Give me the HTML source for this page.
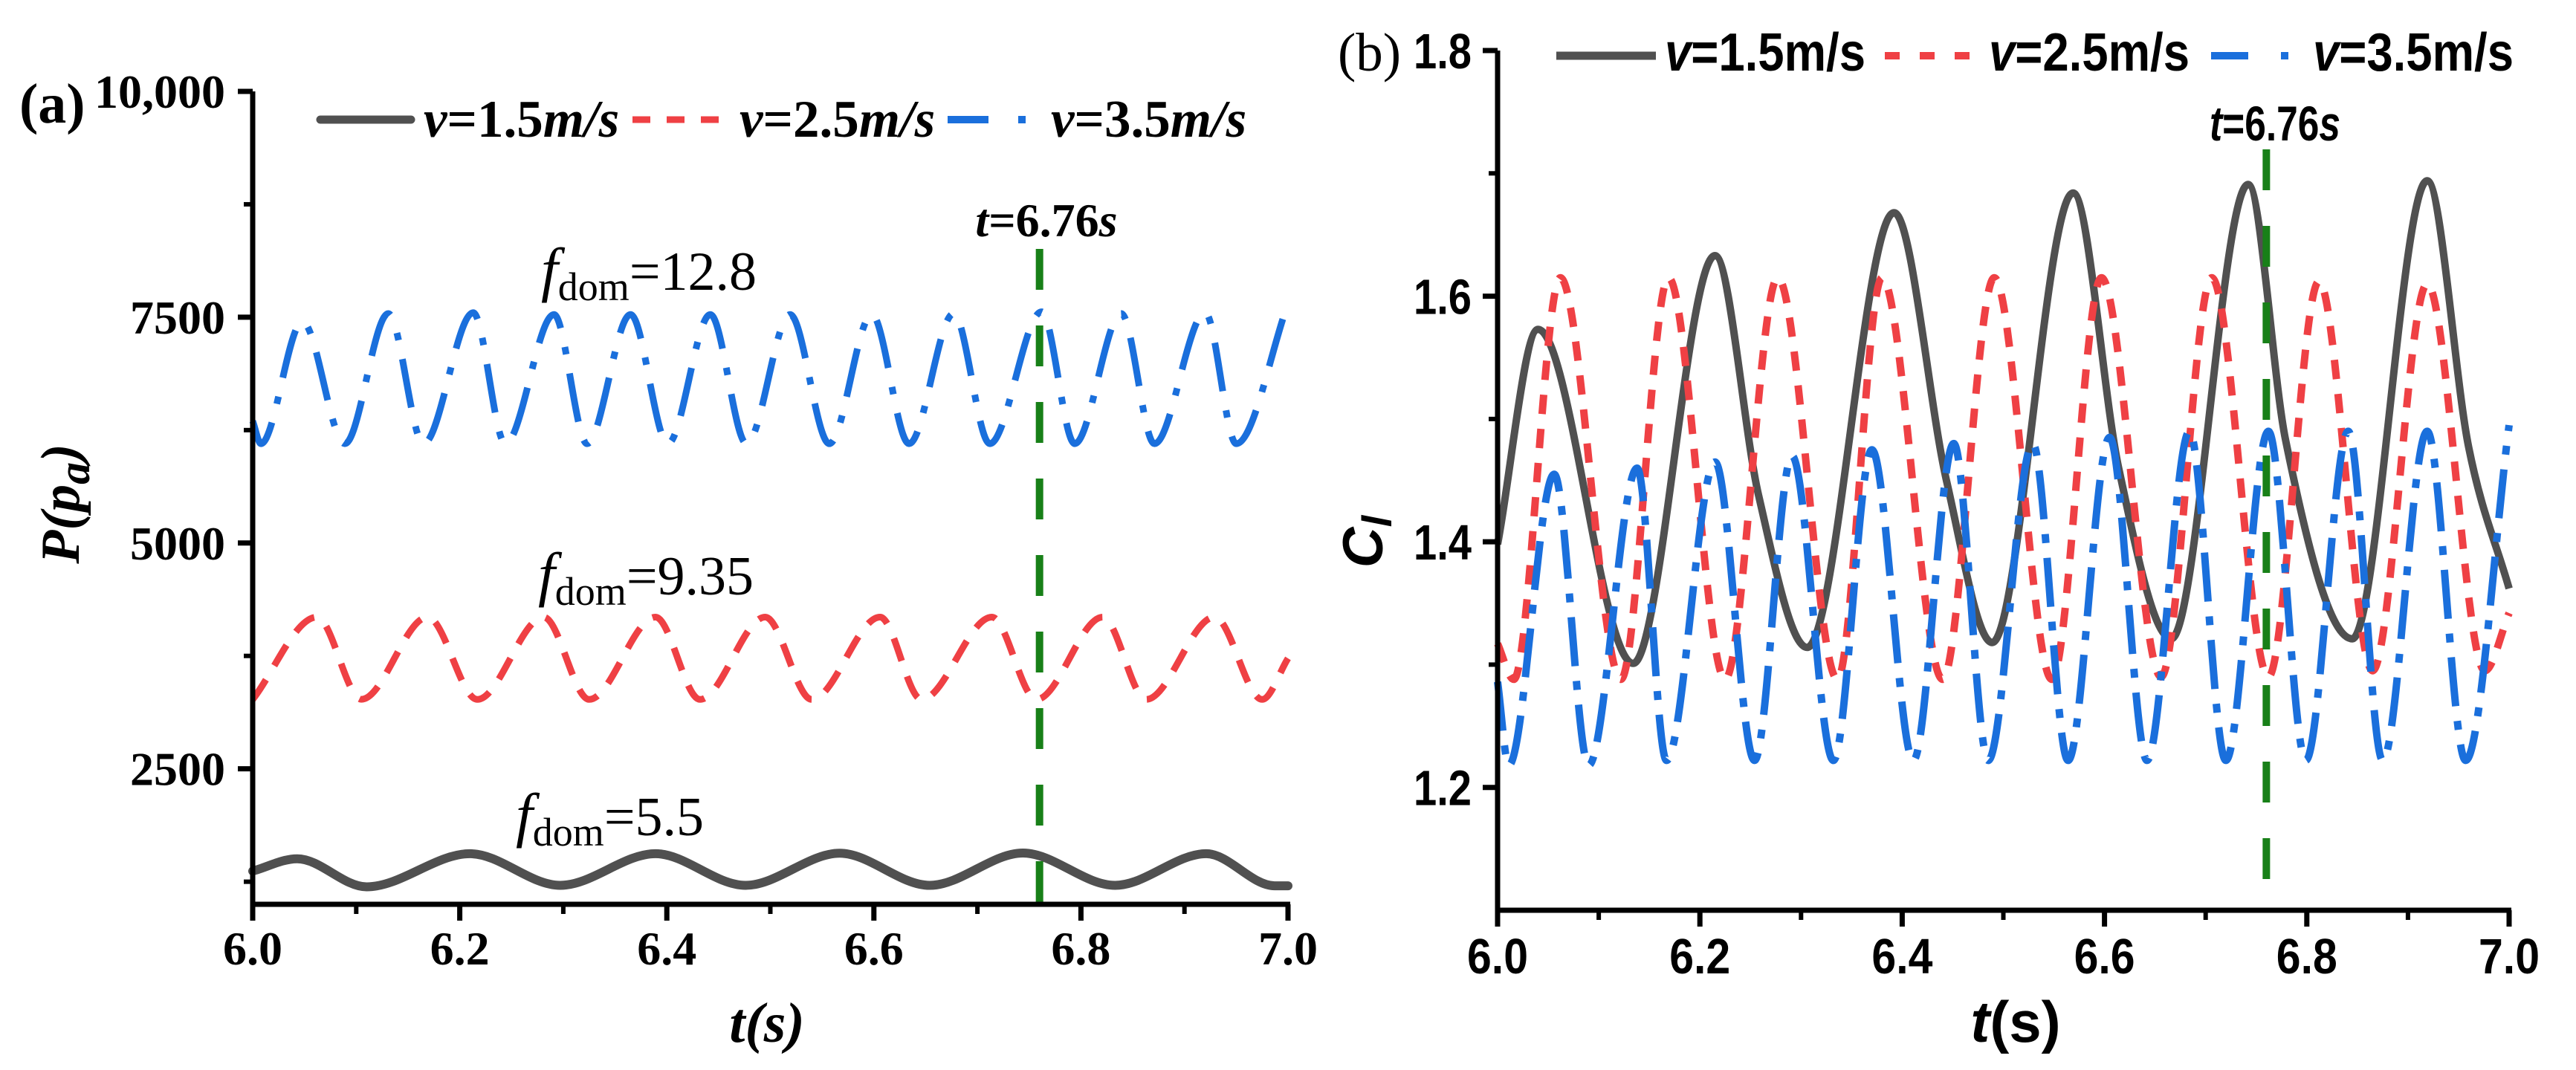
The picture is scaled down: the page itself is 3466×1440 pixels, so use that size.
<!DOCTYPE html>
<html><head><meta charset="utf-8"><style>
html,body{margin:0;padding:0;background:#fff;}
svg{display:block;}
.serif{font-family:"Liberation Serif",serif;}
.sans{font-family:"Liberation Sans",sans-serif;}
</style></head><body>
<svg id="fig" width="3466" height="1440" viewBox="0 0 3466 1440" xmlns="http://www.w3.org/2000/svg">
<g id="pa"></g>
<g id="pb"></g>
</svg>
<script>
// ---------- Panel (a) data: pressure extrema (time, value) ----------
const aBlackT = [6.0,6.043,6.11,6.21,6.297,6.389,6.476,6.567,6.654,6.744,6.833,6.921,6.987,7.0];
const aBlackV = [1368,1504,1193,1560,1210,1560,1210,1565,1210,1568,1210,1560,1205,1205];
const aRedT = [6.0,6.062,6.105,6.169,6.217,6.281,6.325,6.389,6.432,6.495,6.540,6.606,6.646,6.714,6.757,6.821,6.863,6.929,6.975,7.0];
const aRedV = [3268,4180,3270,4180,3268,4180,3268,4180,3268,4180,3268,4180,3268,4180,3268,4180,3268,4180,3268,3723];
const aBlueT = [6.0,6.008,6.048,6.089,6.131,6.165,6.213,6.244,6.291,6.323,6.365,6.401,6.442,6.477,6.519,6.557,6.598,6.634,6.677,6.712,6.762,6.794,6.839,6.871,6.920,6.950,7.0];
const aBlueV = [6350,6100,7450,6100,7540,6100,7550,6100,7530,6100,7530,6100,7530,6100,7530,6100,7530,6100,7540,6100,7560,6100,7540,6100,7550,6100,7650];
const aYTicks = [2500,5000,7500,10000];
const aYTickLabels = ["2500","5000","7500","10,000"];
const aYMinor = [1250,3750,6250,8750];
const xTicks = [6.0,6.2,6.4,6.6,6.8,7.0];
const xTickLabels = ["6.0","6.2","6.4","6.6","6.8","7.0"];
const xMinor = [6.1,6.3,6.5,6.7,6.9];
const markerT = 6.76;

// ---------- Panel (b) data: lift coefficient extrema ----------
const bBlackT = [6.0,6.040,6.134,6.215,6.258,6.306,6.392,6.444,6.489,6.569,6.614,6.666,6.742,6.779,6.845,6.919,6.960,7.0];
const bBlackV = [1.398,1.573,1.301,1.633,1.438,1.314,1.668,1.449,1.318,1.684,1.46,1.321,1.691,1.483,1.321,1.694,1.477,1.362];
const bRedT = [6.0,6.016,6.062,6.122,6.169,6.225,6.277,6.336,6.380,6.440,6.491,6.548,6.597,6.656,6.706,6.762,6.812,6.865,6.919,6.976,7.0];
const bRedV = [1.317,1.288,1.615,1.288,1.615,1.288,1.615,1.288,1.615,1.288,1.615,1.288,1.615,1.29,1.615,1.29,1.612,1.295,1.61,1.295,1.342];
const bBlueT = [6.0,6.011,6.056,6.090,6.138,6.167,6.215,6.254,6.291,6.332,6.370,6.411,6.451,6.485,6.529,6.564,6.605,6.642,6.684,6.720,6.762,6.799,6.841,6.875,6.919,6.957,7.0];
const bBlueV = [1.286,1.218,1.455,1.218,1.46,1.222,1.465,1.222,1.47,1.222,1.475,1.222,1.48,1.222,1.48,1.222,1.485,1.222,1.49,1.222,1.49,1.222,1.49,1.222,1.49,1.222,1.495];
const bYTicks = [1.2,1.4,1.6,1.8];
const bYTickLabels = ["1.2","1.4","1.6","1.8"];
const bYMinor = [1.3,1.5,1.7];

const NS = "http://www.w3.org/2000/svg";
function mk(tag, attrs, parent){
  const e = document.createElementNS(NS, tag);
  for (const k in attrs) e.setAttribute(k, attrs[k]);
  parent.appendChild(e); return e;
}
function smoothPath(xs, ys){
  const n = xs.length, d=[], m=new Array(n);
  for (let i=0;i<n-1;i++) d.push((ys[i+1]-ys[i])/(xs[i+1]-xs[i]));
  m[0]=d[0]; m[n-1]=d[n-2];
  for (let i=1;i<n-1;i++){ m[i] = (d[i-1]*d[i] <= 0) ? 0 : (d[i-1]+d[i])/2; }
  for (let i=0;i<n-1;i++){
    if (d[i]===0){ m[i]=0; m[i+1]=0; continue; }
    const a=m[i]/d[i], b=m[i+1]/d[i], s=a*a+b*b;
    if (s>9){ const t=3/Math.sqrt(s); m[i]=t*a*d[i]; m[i+1]=t*b*d[i]; }
  }
  let p = "M"+xs[0].toFixed(1)+","+ys[0].toFixed(1);
  for (let i=0;i<n-1;i++){
    const h=(xs[i+1]-xs[i])/3;
    p += " C"+(xs[i]+h).toFixed(1)+","+(ys[i]+m[i]*h).toFixed(1)+" "+(xs[i+1]-h).toFixed(1)+","+(ys[i+1]-m[i+1]*h).toFixed(1)+" "+xs[i+1].toFixed(1)+","+ys[i+1].toFixed(1);
  }
  return p;
}

// ================= PANEL A =================
(function(){
  const g = document.getElementById("pa");
  const X0=340, X1=1733, Ybot=1217, Ytop=123, vMin=1000, vMax=10000;
  const sx = t => X0 + (t-6)/(1)*(X1-X0);
  const sy = v => Ybot - (v-vMin)/(vMax-vMin)*(Ybot-Ytop);

  function series(T,V,stroke,w,dash,name){
    const p = mk("path",{d:smoothPath(T.map(sx),V.map(sy)),fill:"none",stroke:stroke,"stroke-width":w,"stroke-dasharray":dash||"none","stroke-linecap":dash?"butt":"round","stroke-linejoin":"round"},g);
    
    
  }
  series(aBlueT,aBlueV,"#1a6fdc",9,"66 26 10 26","series-a-v3.5");
  series(aRedT,aRedV,"#ef4044",9,"32 22","series-a-v2.5");
  series(aBlackT,aBlackV,"#505050",12,null,"series-a-v1.5");

  const ml = mk("line",{x1:sx(markerT),x2:sx(markerT),y1:335,y2:Ybot,stroke:"#188018","stroke-width":10,"stroke-dasharray":"55 48"},g);
  
  

  const ax = mk("path",{d:`M${X0},${Ytop} H${X0} V${Ybot} H${X1+3}`,fill:"none",stroke:"#000","stroke-width":7},g);
  
  
  aYTicks.forEach((v,i)=>{
    mk("line",{x1:X0-20,x2:X0,y1:sy(v),y2:sy(v),stroke:"#000","stroke-width":7},g);
    const t = mk("text",{x:303,y:sy(v)+22,"text-anchor":"end","font-size":64,"font-weight":"bold",class:"serif"},g);
    t.textContent = aYTickLabels[i];
    
    
  });
  aYMinor.forEach(v=>mk("line",{x1:X0-12,x2:X0,y1:sy(v),y2:sy(v),stroke:"#000","stroke-width":6},g));
  xTicks.forEach((v,i)=>{
    mk("line",{x1:sx(v),x2:sx(v),y1:Ybot,y2:Ybot+22,stroke:"#000","stroke-width":7},g);
    const t = mk("text",{x:sx(v),y:1298,"text-anchor":"middle","font-size":64,"font-weight":"bold",class:"serif"},g);
    t.textContent = xTickLabels[i];
    
    
  });
  xMinor.forEach(v=>mk("line",{x1:sx(v),x2:sx(v),y1:Ybot,y2:Ybot+13,stroke:"#000","stroke-width":6},g));
})();

// ================= PANEL B =================
(function(){
  const g = document.getElementById("pb");
  const X0=2015, X1=3376, Ybot=1225, Ytop=68, vMin=1.1, vMax=1.8;
  const sx = t => X0 + (t-6)/(1)*(X1-X0);
  const sy = v => Ybot - (v-vMin)/(vMax-vMin)*(Ybot-Ytop);

  function series(T,V,stroke,w,dash,name){
    const p = mk("path",{d:smoothPath(T.map(sx),V.map(sy)),fill:"none",stroke:stroke,"stroke-width":w,"stroke-dasharray":dash||"none","stroke-linecap":"butt","stroke-linejoin":"round"},g);
    
    
  }
  series(bBlackT,bBlackV,"#505050",10,null,"series-b-v1.5");
  series(bRedT,bRedV,"#ef4044",10,"26 20","series-b-v2.5");
  series(bBlueT,bBlueV,"#1a6fdc",10,"66 20 12 20","series-b-v3.5");

  const ml = mk("line",{x1:sx(markerT),x2:sx(markerT),y1:201,y2:Ybot,stroke:"#188018","stroke-width":10,"stroke-dasharray":"55 48"},g);
  
  

  const ax = mk("path",{d:`M${X0},${Ytop} V${Ybot} H${X1+3}`,fill:"none",stroke:"#000","stroke-width":7},g);
  
  
  bYTicks.forEach((v,i)=>{
    mk("line",{x1:X0-20,x2:X0,y1:sy(v),y2:sy(v),stroke:"#000","stroke-width":7},g);
    const t = mk("text",{x:1980,y:sy(v)+24,"text-anchor":"end","font-size":67,"font-weight":"bold",class:"sans",textLength:78,lengthAdjust:"spacingAndGlyphs"},g);
    t.textContent = bYTickLabels[i];
    
    
  });
  bYMinor.forEach(v=>mk("line",{x1:X0-12,x2:X0,y1:sy(v),y2:sy(v),stroke:"#000","stroke-width":6},g));
  xTicks.forEach((v,i)=>{
    mk("line",{x1:sx(v),x2:sx(v),y1:Ybot,y2:Ybot+22,stroke:"#000","stroke-width":7},g);
    const t = mk("text",{x:sx(v),y:1310,"text-anchor":"middle","font-size":67,"font-weight":"bold",class:"sans",textLength:82,lengthAdjust:"spacingAndGlyphs"},g);
    t.textContent = xTickLabels[i];
    
    
  });
  xMinor.forEach(v=>mk("line",{x1:sx(v),x2:sx(v),y1:Ybot,y2:Ybot+13,stroke:"#000","stroke-width":6},g));
})();
</script>
<svg width="3466" height="1440" style="position:absolute;left:0;top:0" viewBox="0 0 3466 1440" xmlns="http://www.w3.org/2000/svg">
  <text class="serif" x="26" y="165" font-size="76" font-weight="bold">(a)</text>
  <text class="serif" transform="translate(106,678) rotate(-90)" text-anchor="middle" font-size="74" font-weight="bold" font-style="italic">P(p<tspan font-size="60" dy="14">a</tspan><tspan dy="-14">)</tspan></text>
  <text class="serif" x="1032" y="1402" text-anchor="middle" font-size="76" font-weight="bold" font-style="italic">t(s)</text>
  <g>
    <line x1="431" y1="161" x2="553" y2="161" stroke="#505050" stroke-width="11" stroke-linecap="round"/>
    <text class="serif" x="570" y="184" font-size="71" font-weight="bold"><tspan font-style="italic">v</tspan>=1.5<tspan font-style="italic">m/s</tspan></text>
    <line x1="851" y1="161" x2="968" y2="161" stroke="#ef4044" stroke-width="9" stroke-dasharray="24 22"/>
    <text class="serif" x="995" y="184" font-size="71" font-weight="bold"><tspan font-style="italic">v</tspan>=2.5<tspan font-style="italic">m/s</tspan></text>
    <line x1="1275" y1="161" x2="1395" y2="161" stroke="#1a6fdc" stroke-width="10" stroke-dasharray="55 40 10 40"/>
    <text class="serif" x="1414" y="184" font-size="71" font-weight="bold"><tspan font-style="italic">v</tspan>=3.5<tspan font-style="italic">m/s</tspan></text>
  </g>
  <text class="serif" x="1408" y="318" text-anchor="middle" font-size="64" font-weight="bold"><tspan font-style="italic">t</tspan>=6.76<tspan font-style="italic">s</tspan></text>
  <text class="serif" x="728" y="390" font-size="74"><tspan font-style="italic" font-size="82">f</tspan><tspan font-size="54" dy="14">dom</tspan><tspan dy="-14">=12.8</tspan></text>
  <text class="serif" x="724" y="800" font-size="74"><tspan font-style="italic" font-size="82">f</tspan><tspan font-size="54" dy="14">dom</tspan><tspan dy="-14">=9.35</tspan></text>
  <text class="serif" x="694" y="1124" font-size="74"><tspan font-style="italic" font-size="82">f</tspan><tspan font-size="54" dy="14">dom</tspan><tspan dy="-14">=5.5</tspan></text>

  <text class="serif" x="1800" y="95" font-size="73">(b)</text>
  <text class="sans" transform="translate(1860,729) rotate(-90)" text-anchor="middle" font-size="76" font-weight="bold" font-style="italic">C<tspan font-size="56" dy="12">l</tspan></text>
  <text class="sans" x="2712" y="1402" text-anchor="middle" font-size="78" font-weight="bold"><tspan font-style="italic">t</tspan>(s)</text>
  <g>
    <line x1="2094" y1="75" x2="2228" y2="75" stroke="#505050" stroke-width="11"/>
    <text class="sans" x="2240" y="95" font-size="72" font-weight="bold" textLength="270" lengthAdjust="spacingAndGlyphs"><tspan font-style="italic">v</tspan>=1.5m/s</text>
    <line x1="2536" y1="75" x2="2650" y2="75" stroke="#ef4044" stroke-width="10" stroke-dasharray="20 27"/>
    <text class="sans" x="2676" y="95" font-size="72" font-weight="bold" textLength="270" lengthAdjust="spacingAndGlyphs"><tspan font-style="italic">v</tspan>=2.5m/s</text>
    <line x1="2975" y1="75" x2="3092" y2="75" stroke="#1a6fdc" stroke-width="10" stroke-dasharray="50 44 10 40"/>
    <text class="sans" x="3112" y="95" font-size="72" font-weight="bold" textLength="270" lengthAdjust="spacingAndGlyphs"><tspan font-style="italic">v</tspan>=3.5m/s</text>
  </g>
  <text class="sans" x="3061" y="189" text-anchor="middle" font-size="66" font-weight="bold" textLength="176" lengthAdjust="spacingAndGlyphs"><tspan font-style="italic">t</tspan>=6.76<tspan font-style="italic">s</tspan></text>
</svg>
</body></html>
